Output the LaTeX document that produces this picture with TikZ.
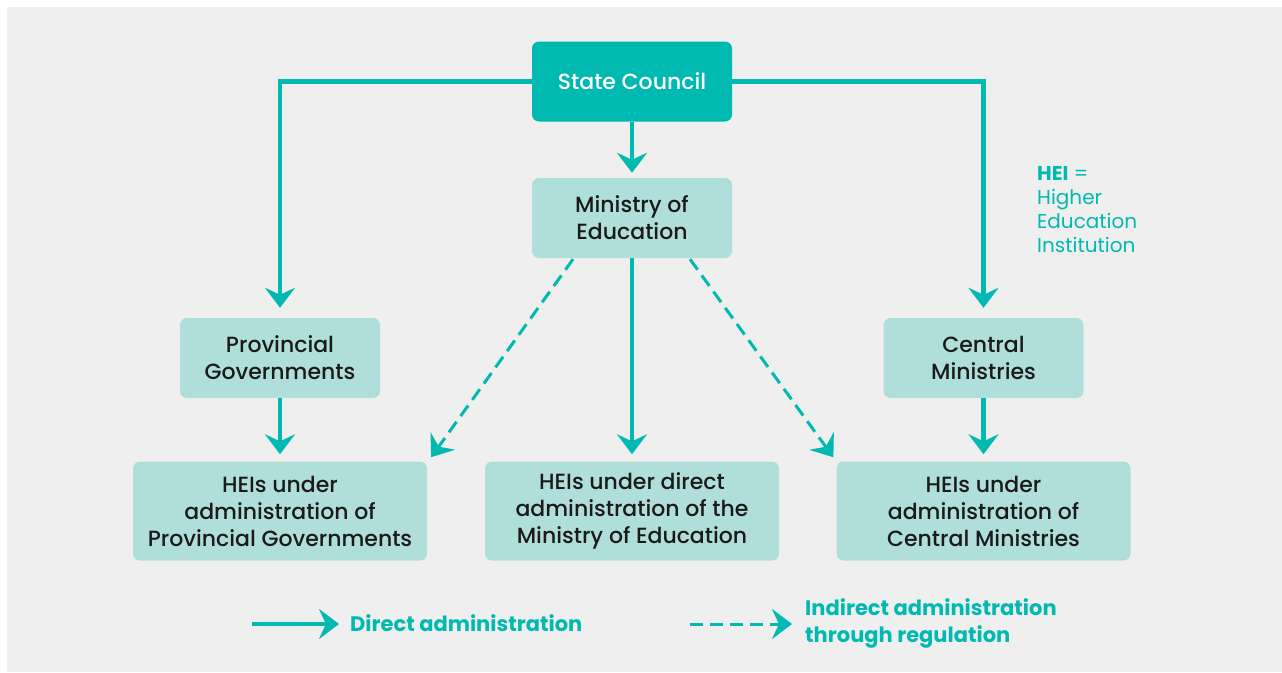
\documentclass[tikz,border=0pt]{standalone}
\usepackage{fontspec}
\setmainfont{Poppins}[UprightFont={* Medium}, BoldFont={* Bold}]
\newfontfamily\notefont{Poppins}
\usetikzlibrary{arrows.meta,calc}
\definecolor{tealmain}{HTML}{00B9B1}
\definecolor{boxfill}{HTML}{B0DFDB}
\definecolor{bggray}{HTML}{EFEFEF}
\definecolor{textdark}{HTML}{1A1A1A}
\tikzset{
  box/.style={fill=boxfill, rounded corners=7pt, minimum width=200pt, minimum height=80pt,
    align=center, text=textdark, font=\fontsize{22}{27}\selectfont, inner sep=0pt},
  widebox/.style={box, minimum width=294pt, minimum height=99pt},
  topbox/.style={box, fill=tealmain, text=white},
  conn/.style={draw=tealmain, line width=4.5pt,
    -{Stealth[length=20pt, width=30pt, inset=7pt]}},
  dconn/.style={conn, line width=3pt, dash pattern=on 13pt off 7pt},
  legendtext/.style={anchor=west, text=tealmain, align=left,
    font=\fontsize{21}{27}\selectfont\bfseries, inner sep=0pt}
}
\begin{document}
\begin{tikzpicture}[x=1pt,y=-1pt]
\useasboundingbox (0,0) rectangle (1282,672);
\fill[white] (0,0) rectangle (1282,672);
\fill[bggray] (7,7) rectangle (1282,672);

% organisation boxes
\node[topbox] (sc)  at (632,81.5) {State Council};
\node[box]    (moe) at (632,218)  {Ministry of\\Education};
\node[box]    (pg)  at (280,358)  {Provincial\\Governments};
\node[box]    (cm)  at (983.5,358) {Central\\Ministries};
\node[widebox] (heip) at (280,511) {HEIs under\\administration of\\Provincial Governments};
\node[widebox] (hed)  at (632,511) {HEIs under direct\\administration of the\\Ministry of Education};
\node[widebox] (hec)  at (983.5,511) {HEIs under\\administration of\\Central Ministries};

% abbreviation note
\node[anchor=north west, align=left, text=tealmain, inner sep=0pt,
      font=\notefont\fontsize{20}{24}\selectfont] (note) at (1037,166)
  {{\bfseries HEI} =\\Higher\\Education\\Institution};

% direct administration
\draw[conn, shorten >=10pt] (sc.west) -| (pg.north);
\draw[conn, shorten >=10pt] (sc.east) -| (cm.north);
\draw[conn, shorten >=5pt] (sc.south) -- (moe.north);
\draw[conn, shorten >=7pt] (pg.south) -- (heip.north);
\draw[conn, shorten >=7pt] (moe.south) -- (hed.north);
\draw[conn, shorten >=7pt] (cm.south) -- (hec.north);

% indirect administration
\draw[dconn, shorten >=5pt] ($(moe.south)+(-59,1)$) -- ($(heip.north east)+(1,0)$);
\draw[dconn, shorten >=5pt] ($(moe.south)+(58,1)$) -- (hec.north west);

% legend
\coordinate (l1a) at (252,624);
\coordinate (l1b) at (339,624);
\coordinate (l2a) at (690,624);
\coordinate (l2b) at (792,624);
\draw[conn] (l1a) -- (l1b);
\draw[dconn] (l2a) -- (l2b);
\node[legendtext] (lt1) at (350,623) {Direct administration};
\node[legendtext] (lt2) at (805,623) {Indirect administration\\through regulation};
\end{tikzpicture}
\end{document}
